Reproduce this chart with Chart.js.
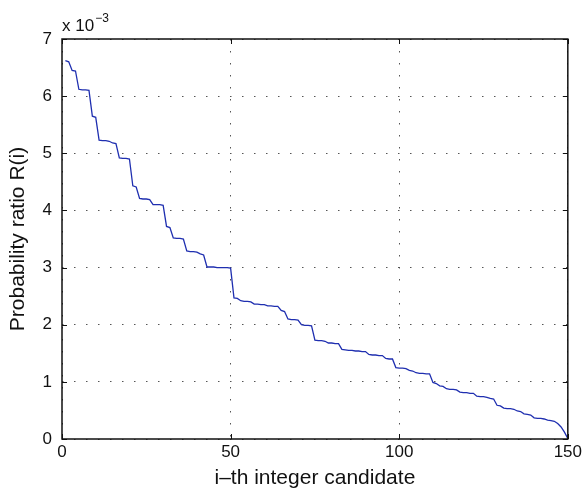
<!DOCTYPE html>
<html>
<head>
<meta charset="utf-8">
<script src="https://cdn.jsdelivr.net/npm/chart.js@4"></script>
<style>
  html, body { margin: 0; padding: 0; background: #fff; }
</style>
</head>
<body>
<canvas id="ratioChart" width="585" height="497"></canvas>
<script>
// R(i) for the i-th integer candidate, in units of 1e-3
const ratio = [
  6.62, 6.60, 6.45, 6.44, 6.12, 6.11, 6.11, 6.10, 5.65, 5.63,
  5.23, 5.22, 5.22, 5.21, 5.18, 5.17, 4.92, 4.91, 4.91, 4.90,
  4.43, 4.41, 4.21, 4.20, 4.20, 4.19, 4.10, 4.10, 4.10, 4.09,
  3.72, 3.70, 3.52, 3.51, 3.51, 3.50, 3.29, 3.28, 3.28, 3.27,
  3.24, 3.22, 3.01, 3.01, 3.01, 3.00, 3.00, 3.00, 3.00, 2.99,
  2.47, 2.46, 2.42, 2.41, 2.41, 2.40, 2.36, 2.36, 2.35, 2.35,
  2.33, 2.33, 2.32, 2.32, 2.25, 2.23, 2.10, 2.09, 2.09, 2.08,
  2.00, 1.99, 1.99, 1.98, 1.73, 1.72, 1.72, 1.71, 1.68, 1.68,
  1.67, 1.67, 1.57, 1.56, 1.55, 1.55, 1.54, 1.54, 1.53, 1.53,
  1.48, 1.47, 1.47, 1.46, 1.46, 1.41, 1.40, 1.40, 1.25, 1.24,
  1.24, 1.23, 1.20, 1.19, 1.16, 1.15, 1.15, 1.14, 1.14, 0.99,
  0.97, 0.93, 0.92, 0.88, 0.87, 0.87, 0.86, 0.82, 0.81, 0.81,
  0.80, 0.80, 0.75, 0.74, 0.74, 0.73, 0.71, 0.70, 0.59, 0.58,
  0.54, 0.53, 0.53, 0.52, 0.49, 0.48, 0.44, 0.43, 0.42, 0.37,
  0.36, 0.36, 0.35, 0.33, 0.32, 0.31, 0.27, 0.21, 0.12, 0.01
];
const candidate = ratio.map((_, k) => k + 1);
const xTicks = [0, 50, 100, 150];
const yTicks = [0, 1, 2, 3, 4, 5, 6, 7];

const FONT = '"Liberation Sans", Arial, sans-serif';

// box around the axes, inward tick marks and the x 10^-3 multiplier
const matlabAxes = {
  id: 'matlabAxes',
  afterDraw(chart) {
    const { ctx, chartArea: a, scales } = chart;
    ctx.save();
    ctx.strokeStyle = '#111';
    ctx.lineWidth = 1;
    const tl = 5;
    ctx.beginPath();
    xTicks.forEach(v => {
      const x = Math.round(scales.x.getPixelForValue(v)) + 0.5;
      ctx.moveTo(x, a.bottom); ctx.lineTo(x, a.bottom - tl);
      ctx.moveTo(x, a.top); ctx.lineTo(x, a.top + tl);
    });
    yTicks.forEach(v => {
      const y = Math.round(scales.y.getPixelForValue(v)) + 0.5;
      ctx.moveTo(a.left, y); ctx.lineTo(a.left + tl, y);
      ctx.moveTo(a.right, y); ctx.lineTo(a.right - tl, y);
    });
    ctx.stroke();

    ctx.lineWidth = 1.5;
    ctx.strokeRect(a.left, a.top, a.right - a.left, a.bottom - a.top);

    ctx.fillStyle = '#111';
    ctx.textBaseline = 'alphabetic';
    ctx.font = '17px ' + FONT;
    ctx.fillText('x 10', a.left, a.top - 8);
    const w = ctx.measureText('x 10').width;
    ctx.font = '12px ' + FONT;
    ctx.fillText('\u22123', a.left + w + 1, a.top - 17);
    ctx.restore();
  }
};

new Chart(document.getElementById('ratioChart'), {
  type: 'line',
  data: {
    labels: candidate,
    datasets: [{
      label: 'R(i)',
      data: candidate.map((c, k) => ({ x: c, y: ratio[k] })),
      borderColor: '#1f2fb0',
      borderWidth: 1.3,
      pointRadius: 0,
      fill: false,
      tension: 0
    }]
  },
  options: {
    responsive: false,
    animation: false,
    layout: { padding: { left: 0, top: 39, right: 17, bottom: 0 } },
    plugins: { legend: { display: false }, tooltip: { enabled: false } },
    scales: {
      x: {
        type: 'linear',
        min: 0,
        max: 150,
        afterBuildTicks: s => { s.ticks = xTicks.map(v => ({ value: v })); },
        afterFit: s => { s.height = 58; },
        grid: { color: '#555', lineWidth: 1, drawTicks: false },
        border: { display: false, dash: [1.5, 10.5] },
        ticks: { color: '#111', font: { family: FONT, size: 17 }, padding: 3, maxRotation: 0 },
        title: {
          display: true,
          text: 'i\u2013th integer candidate',
          color: '#111',
          font: { family: FONT, size: 21 },
          padding: { top: 0, bottom: 6 }
        }
      },
      y: {
        min: 0,
        max: 7,
        afterBuildTicks: s => { s.ticks = yTicks.map(v => ({ value: v })); },
        afterFit: s => { s.width = 62; },
        grid: { color: '#555', lineWidth: 1, drawTicks: false },
        border: { display: false, dash: [1.5, 10.5] },
        ticks: { color: '#111', font: { family: FONT, size: 17 }, padding: 10 },
        title: {
          display: true,
          text: 'Probability ratio R(i)',
          color: '#111',
          font: { family: FONT, size: 21 },
          padding: { top: 6, bottom: 0 }
        }
      }
    }
  },
  plugins: [matlabAxes]
});
</script>
</body>
</html>
